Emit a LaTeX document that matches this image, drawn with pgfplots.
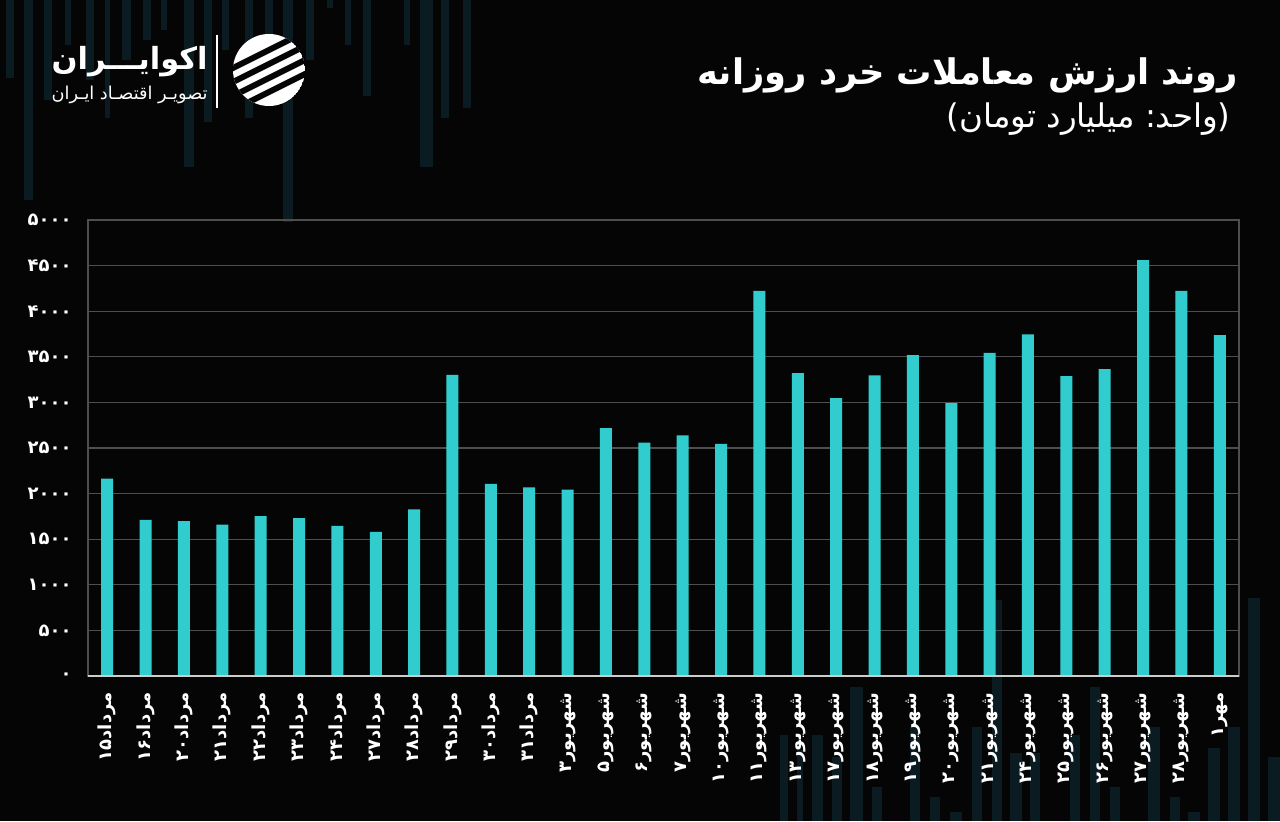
\documentclass[border=0pt]{standalone}
\usepackage{graphicx}
\usepackage{pgfplots}
\pgfplotsset{compat=1.18}
\usepackage{fontspec}
\setmainfont{DejaVu Sans}
\newfontfamily\fa[Script=Arabic]{DejaVu Sans}
\TeXXeTstate=1
\definecolor{bg}{RGB}{5,5,5}
\definecolor{barc}{RGB}{49,205,206}
\definecolor{gridc}{RGB}{78,78,78}
\definecolor{zeroc}{RGB}{205,205,205}
\definecolor{stripe}{RGB}{10,27,33}
\newcommand{\rl}[1]{\beginR#1\endR}
\newcommand{\lab}[2]{\beginR#1\beginL#2\endL\endR}
\begin{document}
\begin{tikzpicture}
\fill[bg] (0,0) rectangle (640pt,410.5pt);
\useasboundingbox (0,0) rectangle (640pt,410.5pt);
% background stripes and header, in pixel units (y downwards)
\begin{scope}[x=0.5pt,y=-0.5pt,shift={(0pt,410.5pt)}]
  \foreach \a/\b/\e in {6/14/78,24/33/200,44/52/100,65/71/45,86/94/80,105/110/118,
      122/131/60,143/151/40,161/167/30,184/194/167,204/212/122,222/229/50,245/253/118,
      265/273/40,283/293/222,306/314/60,327/333/8,345/351/45,363/371/96,404/410/45,
      420/433/167,441/449/118,463/471/108}
    \fill[stripe] (\a,0) rectangle (\b,\e);
  \foreach \a/\b/\s in {780/788/735,797/803/750,812/823/735,832/842/757,850/863/687,
      872/882/787,910/920/727,930/940/797,950/962/812,972/982/727,992/1002/600,
      1010/1022/753,1030/1040/753,1070/1080/735,1090/1100/687,1110/1120/787,
      1148/1160/727,1170/1180/797,1188/1200/812,1208/1220/748,1228/1240/727,
      1248/1260/598,1268/1280/757}
    \fill[stripe] (\a,\s) rectangle (\b,821);
  % title
  \node[anchor=east,inner sep=0pt,text=white] at (1238,75)
    {\resizebox{270pt}{!}{\fa\bfseries\rl{روند ارزش معاملات خرد روزانه}}};
  \node[anchor=east,inner sep=0pt,text=white] at (1231,119)
    {\resizebox{142pt}{!}{\fa\mbox{)}\mbox{تومان} \mbox{میلیارد} \mbox{:}\mbox{واحد}\mbox{(}}};
  % logo
  \node[anchor=east,inner sep=0pt,text=white] at (208,62)
    {\resizebox{78pt}{!}{\fa\bfseries اکوایـــران}};
  \node[anchor=east,inner sep=0pt,text=white] at (208,95)
    {\resizebox{78pt}{!}{\fa\rl{تصویـر اقتصـاد ایـران}}};
  \draw[white,line width=0.6pt] (217,35) -- (217,108);
  \begin{scope}
    \clip (269,70) circle (36);
    \fill[white] (269,70) circle (36);
    \foreach \k in {-20,-6,8,22}
      \draw[bg,line width=3pt] (220,{70+\k+24.5}) -- (320,{70+\k-25.5});
  \end{scope}
\end{scope}
\begin{axis}[
  at={(44pt,72.5pt)}, anchor=south west,
  scale only axis, width=575.5pt, height=228pt,
  xmin=-0.5, xmax=29.5, ymin=0, ymax=5000,
  ybar, bar width=6pt,
  axis line style={draw=gridc,line width=0.6pt},
  ymajorgrids, grid style={draw=gridc,line width=0.6pt},
  major tick length=0pt,
  ytick={0,500,...,5000},
  yticklabels={۰,۵۰۰,۱۰۰۰,۱۵۰۰,۲۰۰۰,۲۵۰۰,۳۰۰۰,۳۵۰۰,۴۰۰۰,۴۵۰۰,۵۰۰۰},
  yticklabel style={font=\fa\bfseries\fontsize{9}{9}\selectfont,text=white,
    anchor=east,inner sep=0pt,xshift=-8pt},
  xtick={0,...,29},
  xticklabels={\lab{مرداد}{۱۵},\lab{مرداد}{۱۶},\lab{مرداد}{۲۰},\lab{مرداد}{۲۱},
    \lab{مرداد}{۲۲},\lab{مرداد}{۲۳},\lab{مرداد}{۲۴},\lab{مرداد}{۲۷},\lab{مرداد}{۲۸},
    \lab{مرداد}{۲۹},\lab{مرداد}{۳۰},\lab{مرداد}{۳۱},\lab{شهریور}{۳},\lab{شهریور}{۵},
    \lab{شهریور}{۶},\lab{شهریور}{۷},\lab{شهریور}{۱۰},\lab{شهریور}{۱۱},\lab{شهریور}{۱۳},
    \lab{شهریور}{۱۷},\lab{شهریور}{۱۸},\lab{شهریور}{۱۹},\lab{شهریور}{۲۰},\lab{شهریور}{۲۱},
    \lab{شهریور}{۲۴},\lab{شهریور}{۲۵},\lab{شهریور}{۲۶},\lab{شهریور}{۲۷},\lab{شهریور}{۲۸},
    \lab{مهر}{۱}},
  xticklabel style={font=\fa\bfseries\fontsize{9}{9}\selectfont,text=white,
    yshift=-8pt,rotate=90,anchor=east,inner sep=0pt},
]
\addplot[fill=barc,draw=none] coordinates {
  (0,2164) (1,1713) (2,1697) (3,1661) (4,1752) (5,1730) (6,1647) (7,1581)
  (8,1826) (9,3303) (10,2106) (11,2069) (12,2044) (13,2719) (14,2558) (15,2638)
  (16,2544) (17,4223) (18,3322) (19,3048) (20,3296) (21,3519) (22,2993) (23,3544)
  (24,3745) (25,3289) (26,3365) (27,4559) (28,4223) (29,3738)
};
\draw[zeroc,line width=1.1pt] (rel axis cs:0,0) -- (rel axis cs:1,0);
\end{axis}
\end{tikzpicture}
\end{document}
